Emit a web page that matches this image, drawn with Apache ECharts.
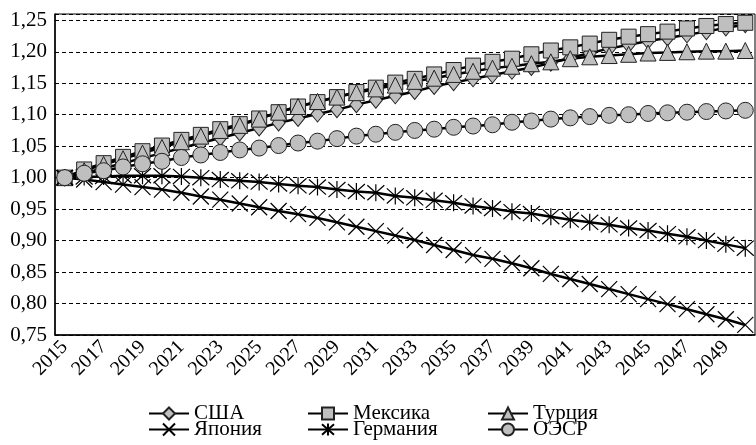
<!DOCTYPE html>
<html>
<head>
<meta charset="utf-8">
<script src="https://cdn.jsdelivr.net/npm/echarts@6/dist/echarts.min.js"></script>
<style>
html,body{margin:0;padding:0;background:#fff;}
#chart{width:756px;height:445px;}
</style>
</head>
<body>
<div id="chart"></div>
<script>
const years = ['2015','2016','2017','2018','2019','2020','2021','2022','2023','2024','2025','2026','2027','2028','2029','2030','2031','2032','2033','2034','2035','2036','2037','2038','2039','2040','2041','2042','2043','2044','2045','2046','2047','2048','2049','2050'];
const usa = [1.000,1.007,1.015,1.023,1.031,1.039,1.047,1.055,1.063,1.071,1.079,1.087,1.094,1.101,1.108,1.116,1.123,1.130,1.137,1.145,1.151,1.157,1.163,1.169,1.175,1.182,1.190,1.198,1.205,1.211,1.217,1.222,1.227,1.232,1.238,1.243];
const mexico = [1.000,1.013,1.023,1.033,1.042,1.051,1.060,1.068,1.077,1.085,1.094,1.104,1.113,1.120,1.128,1.136,1.143,1.151,1.157,1.164,1.171,1.178,1.184,1.189,1.196,1.202,1.207,1.213,1.219,1.224,1.228,1.232,1.237,1.241,1.244,1.246];
const turkey = [1.000,1.011,1.021,1.030,1.039,1.048,1.057,1.066,1.075,1.083,1.093,1.104,1.113,1.121,1.128,1.135,1.141,1.147,1.153,1.158,1.164,1.169,1.174,1.177,1.181,1.184,1.189,1.192,1.194,1.196,1.198,1.199,1.200,1.201,1.201,1.202];
const japan = [1.000,0.997,0.993,0.989,0.985,0.981,0.976,0.970,0.965,0.959,0.953,0.947,0.942,0.936,0.929,0.922,0.915,0.908,0.901,0.893,0.885,0.877,0.871,0.864,0.856,0.847,0.839,0.831,0.823,0.815,0.807,0.799,0.791,0.783,0.775,0.766];
const germany = [1.000,1.001,1.002,1.003,1.003,1.003,1.002,1.000,0.997,0.995,0.993,0.990,0.987,0.985,0.981,0.978,0.976,0.971,0.968,0.964,0.960,0.955,0.951,0.946,0.943,0.938,0.933,0.929,0.925,0.920,0.916,0.911,0.906,0.900,0.894,0.888];
const oecd = [1.000,1.007,1.011,1.017,1.022,1.026,1.032,1.036,1.040,1.044,1.047,1.051,1.055,1.058,1.062,1.066,1.069,1.072,1.075,1.077,1.080,1.082,1.084,1.088,1.090,1.093,1.095,1.097,1.099,1.100,1.102,1.103,1.104,1.105,1.106,1.107];
const names = ['США','Мексика','Турция','Япония','Германия','ОЭСР'];
const yTicks = [0.75,0.80,0.85,0.90,0.95,1.00,1.05,1.10,1.15,1.20,1.25];

const FONT = 'Liberation Serif';
const GRAY = '#bfbfbf';
const XPATH = 'path://M0,0L16,16M16,0L0,16';
const STARPATH = 'path://M0,0L16,16M16,0L0,16M8,-1L8,17';

function mk(name, data, symbol, size, filled) {
  return {
    name: name, type: 'line', data: data,
    symbol: symbol, symbolSize: size, showAllSymbol: true,
    lineStyle: {color: '#000', width: 2.5},
    itemStyle: filled ? {color: GRAY, borderColor: '#222', borderWidth: 1}
                      : {color: 'rgba(0,0,0,0)', borderColor: '#000', borderWidth: 1.2},
    emphasis: {disabled: true},
    z: 2
  };
}

const series = [
  mk(names[0], usa, 'diamond', [13, 16], true),
  mk(names[1], mexico, 'rect', 15, true),
  mk(names[2], turkey, 'triangle', 16, true),
  mk(names[3], japan, XPATH, 16, false),
  mk(names[4], germany, STARPATH, 17, false),
  mk(names[5], oecd, 'circle', 16, true)
];

const legX = [148, 307, 487];
const legY = [403, 419];
const legends = names.map(function (n, i) {
  return {
    data: [n], left: legX[i % 3], top: legY[Math.floor(i / 3)],
    orient: 'horizontal', padding: 0, itemWidth: 40, itemHeight: 15, itemGap: 0,
    selectedMode: false,
    textStyle: {fontFamily: FONT, fontSize: 21, color: '#000', lineHeight: 16, padding: [0, 0, 0, 0]}
  };
});

const chart = echarts.init(document.getElementById('chart'), null, {renderer: 'canvas'});
chart.setOption({
  animation: false,
  backgroundColor: '#fff',
  legend: legends,
  grid: {left: 55, right: 1, top: 14, bottom: 110, show: true, borderColor: '#000', borderWidth: 1, backgroundColor: 'transparent'},
  xAxis: {
    type: 'category', data: years, boundaryGap: true,
    axisLine: {lineStyle: {color: '#000', width: 1.5}},
    axisTick: {show: false},
    axisLabel: {interval: 1, rotate: 45, margin: 9, fontFamily: FONT, fontSize: 20, color: '#000'},
    splitLine: {show: false}
  },
  yAxis: {
    type: 'value', min: 0.75, max: 1.26, interval: 0.05,
    axisLine: {show: true, lineStyle: {color: '#000', width: 1.5}},
    axisTick: {show: false},
    axisLabel: {
      margin: 8, fontFamily: FONT, fontSize: 21, color: '#000',
      formatter: function (v) {
        for (let t of yTicks) { if (Math.abs(t - v) < 1e-6) return t.toFixed(2).replace('.', ','); }
        return '';
      }
    },
    splitLine: {show: true, lineStyle: {color: '#000', width: 1, type: [4, 3]}}
  },
  series: series
});
</script>
</body>
</html>
